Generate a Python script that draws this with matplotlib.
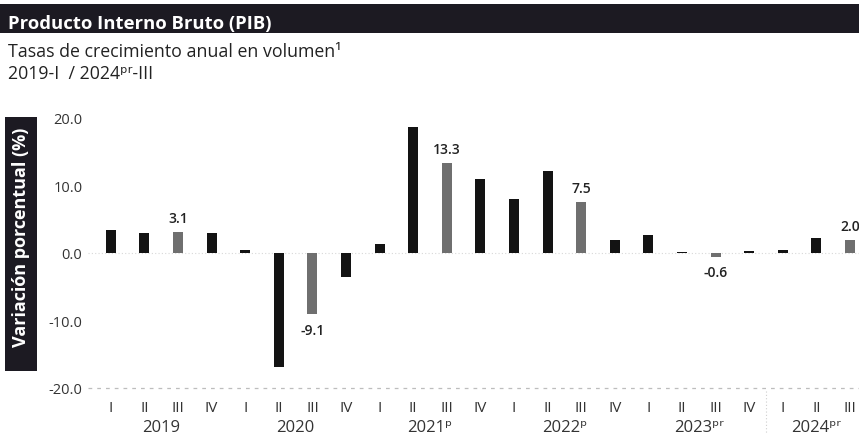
import matplotlib
matplotlib.use("Agg")
import matplotlib.pyplot as plt
from matplotlib.patches import Rectangle
import matplotlib.transforms as mtransforms

plt.rcParams['font.family'] = ['Open Sans', 'DejaVu Sans']

years = ["2019", "2020", "2021ᵖ", "2022ᵖ", "2023ᵖʳ", "2024ᵖʳ"]
quarters = ["I", "II", "III", "IV"] * 5 + ["I", "II", "III"]
values = [3.4, 3.0, 3.1, 3.0,
          0.4, -16.9, -9.1, -3.6,
          1.4, 18.7, 13.3, 11.0,
          8.0, 12.1, 7.5, 2.0,
          2.6, 0.2, -0.6, 0.3,
          0.5, 2.2, 2.0]
yticks = [20, 10, 0, -10, -20]

W, H = 859, 435
fig = plt.figure(figsize=(W / 100, H / 100), dpi=100)

def fx(px):
    return px / W

def fy(py):
    return 1 - py / H

# Title banner
fig.patches.append(Rectangle((0, fy(34)), 1, fy(5) - fy(34), transform=fig.transFigure,
                             facecolor='#1c1a22', edgecolor='none', zorder=0))
fig.text(fx(8), fy(29), "Producto Interno Bruto (PIB)", color='white', fontsize=13.3,
         fontweight='bold', va='baseline', ha='left')
fig.text(fx(8), fy(57), "Tasas de crecimiento anual en volumen¹", color='#222222',
         fontsize=12.8, va='baseline', ha='left')
fig.text(fx(8), fy(79), "2019-I  / 2024ᵖʳ-III", color='#222222',
         fontsize=12.8, va='baseline', ha='left')

# Y label box
fig.patches.append(Rectangle((fx(5), fy(372)), fx(37) - fx(5), fy(118) - fy(372),
                             transform=fig.transFigure, facecolor='#1c1a22',
                             edgecolor='none', zorder=0))
fig.text(fx(21), fy(237), "Variación porcentual (%)", color='white', fontsize=13,
         fontweight='bold', rotation=90, va='center', ha='center')

left, right, top, bottom = 88, 859, 119, 389
ax = fig.add_axes([fx(left), fy(bottom), fx(right) - fx(left), fy(top) - fy(bottom)])

n = len(values)
x = list(range(n))
colors = ['#6f6f6f' if q == "III" else '#131313' for q in quarters]
ax.bar(x, values, width=0.3, color=colors, zorder=3)

ax.set_xlim(-0.68, 22.27)
ax.set_ylim(-20, 20)
for s in ax.spines.values():
    s.set_visible(False)
ax.set_yticks(yticks)
ax.set_yticklabels([f"{v:.1f}" for v in yticks])
ax.tick_params(axis='y', length=0, pad=4, labelsize=10.5, labelcolor='#333333')
ax.set_xticks(x)
ax.set_xticklabels(quarters)
ax.tick_params(axis='x', length=0, pad=9, labelsize=11, labelcolor='#333333')

ax.axhline(0, color='#d8d8d8', lw=0.8, ls=(0, (1, 2)), zorder=1)
ax.axhline(-20, color='#bdbdbd', lw=0.9, ls=(0, (3, 4)), zorder=1, clip_on=False)

# Year labels
trans = mtransforms.blended_transform_factory(ax.transData, fig.transFigure)
for i, yr in enumerate(years):
    idx = [j for j in range(i * 4, min(i * 4 + 4, n))]
    cx = sum(idx) / len(idx)
    ax.text(cx, fy(428), yr, transform=trans, ha='center', va='center',
            fontsize=12, color='#333333')

# separator between 2023 and 2024
ax.plot([19.5, 19.5], [fy(392), fy(435)], transform=trans, color='#cfcfcf',
        lw=0.8, ls=(0, (1, 2)), clip_on=False)

# Value labels on III quarters
for i, (q, v) in enumerate(zip(quarters, values)):
    if q == "III":
        if v >= 0:
            ax.annotate(f"{v:.1f}", (i, v), xytext=(0, 5), textcoords='offset points',
                        ha='center', va='bottom', fontsize=10, fontweight='semibold',
                        color='#222222', annotation_clip=False)
        else:
            ax.annotate(f"{v:.1f}", (i, v), xytext=(0, -6), textcoords='offset points',
                        ha='center', va='top', fontsize=10, fontweight='semibold',
                        color='#222222', annotation_clip=False)

fig.savefig("out.png", dpi=100)
